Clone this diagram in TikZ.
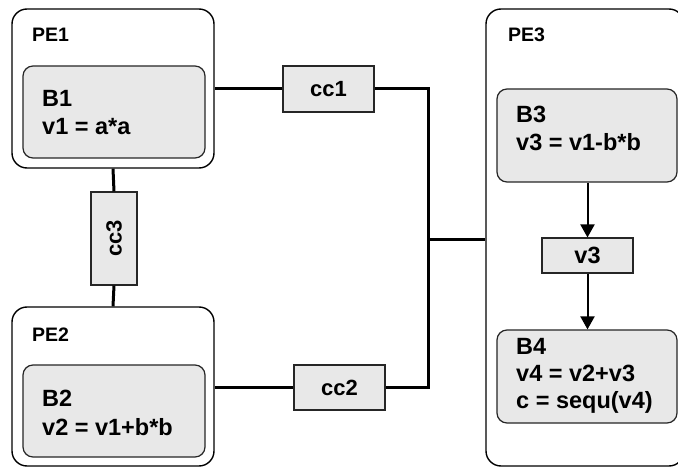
\documentclass[tikz,border=0pt]{standalone}
\usepackage{fontspec}
\usepackage{graphicx}
\setmainfont{Liberation Sans}
\usetikzlibrary{arrows.meta}
\definecolor{boxfill}{RGB}{232,232,232}
\tikzset{
  pe/.style={draw=black, line width=1.4pt, rounded corners=15pt, fill=white, inner sep=0pt},
  blk/.style={draw=black!85, line width=1.2pt, rounded corners=10pt, fill=boxfill, inner sep=0pt},
  cc/.style={draw=black!85, line width=1.1pt, fill=boxfill, inner sep=0pt, font=\fontsize{22}{22}\selectfont\bfseries},
  pelabel/.style={anchor=base west, inner sep=0pt, font=\fontsize{19.5}{19.5}\selectfont\bfseries},
  txt/.style={anchor=base west, inner sep=0pt, font=\fontsize{23.5}{23.5}\selectfont\bfseries},
  wire/.style={line width=3pt},
  flow/.style={line width=2pt, -{Triangle[length=13pt,width=14pt]}}
}
\begin{document}
\begin{tikzpicture}[x=1pt,y=-1pt]
\useasboundingbox (0,0) rectangle (678,468);
\clip (0,0) rectangle (678,468);
% processing elements
\node[pe, minimum width=202pt, minimum height=159pt] (PE1) at (113,88.5) {};
\node[pe, minimum width=202pt, minimum height=159pt] (PE2) at (113,386.5) {};
\node[pe, minimum width=198pt, minimum height=457pt] (PE3) at (585,237.5) {};
\node[pelabel] (PE1l) at (32,42) {PE1};
\node[pelabel] (PE2l) at (32,341) {PE2};
\node[pelabel] (PE3l) at (508,42) {PE3};
% blocks
\node[blk, minimum width=182pt, minimum height=92pt] (B1) at (114,112) {};
\node[blk, minimum width=182pt, minimum height=92pt] (B2) at (114,411) {};
\node[blk, minimum width=180pt, minimum height=93pt] (B3) at (587,135.5) {};
\node[blk, minimum width=180pt, minimum height=93pt] (B4) at (587,376.5) {};
\node[txt] (B1a) at (42,107) {B1};
\node[txt] (B1b) at (42,135) {v1 = a*a};
\node[txt] (B2a) at (42,406) {B2};
\node[txt] (B2b) at (42,435) {v2 = v1+b*b};
\node[txt] (B3a) at (516,123) {B3};
\node[txt] (B3b) at (516,151) {v3 = v1-b*b};
\node[txt] (B4a) at (516,354) {B4};
\node[txt] (B4b) at (516,381) {v4 = v2+v3};
\node[txt] (B4c) at (516,408) {c = sequ(v4)};
% communication channels
\node[cc, minimum width=91pt, minimum height=46pt] (cc1) at (328.5,89) {cc1};
\node[cc, minimum width=91pt, minimum height=45pt] (cc2) at (339.5,387.5) {cc2};
\node[cc, minimum width=46pt, minimum height=93pt] (cc3) at (114,238.5) {\rotatebox{90}{cc3}};
\node[cc, minimum width=91pt, minimum height=35pt, font=\fontsize{23.5}{23.5}\selectfont\bfseries] (v3) at (587.5,255.5) {v3};
% wires
\coordinate (J) at (428,239);
\draw[wire] (cc1.west) -- (cc1.west -| PE1.east);
\draw[wire] (cc2.west) -- (cc2.west -| PE2.east);
\draw[wire] (cc1.east) -| (J) |- (cc2.east);
\draw[wire] (J) -- (J -| PE3.west);
\draw[wire] (PE1.south) -- (cc3.north);
\draw[wire] (cc3.south) -- (PE2.north);
% data flow
\draw[flow] (B3.south -| v3.north) -- (v3.north);
\draw[flow] (v3.south) -- (B4.north -| v3.south);
\end{tikzpicture}
\end{document}
